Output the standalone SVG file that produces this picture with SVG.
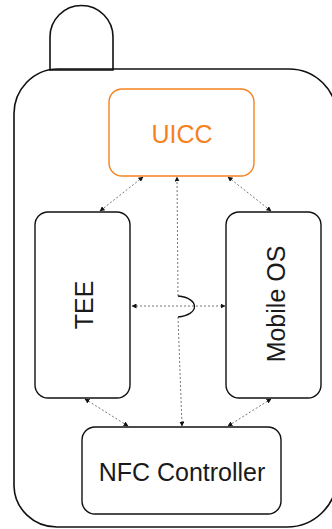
<svg xmlns="http://www.w3.org/2000/svg" width="332" height="529" viewBox="0 0 332 529">
<style>
.outline{fill:none;stroke:#111;stroke-width:1.6}
.box{fill:#fff;stroke:#111;stroke-width:1.4}
.uicc{fill:#fff;stroke:#f5821f;stroke-width:1.4}
.lbl{font-family:"Liberation Sans",Arial,sans-serif;font-size:25px;fill:#1a1a1a;text-anchor:middle}
.conn{fill:none;stroke:#666;stroke-width:0.9;stroke-dasharray:2,2}
.jump{fill:none;stroke:#111;stroke-width:1.3}
</style>
<defs>
<marker id="ah" viewBox="0 0 10 10" refX="9" refY="5" markerWidth="5" markerHeight="5" markerUnits="userSpaceOnUse" orient="auto-start-reverse">
<path d="M0,0 L10,5 L0,10 Z" fill="#111"/>
</marker>
</defs>
<rect width="332" height="529" fill="#fff"/>
<g id="phone">
<path class="outline" d="M14,486 L14,115 A44,45 0 0 1 58,69 L289,69 A48,48 0 0 1 337,117 L337,478 A50,50 0 0 1 287,527 L57,527 A43,42 0 0 1 14,486 Z"/>
<path class="outline" d="M50,70 L50,37 A31.5,31.5 0 0 1 113,37 L113,70 Z"/>
</g>
<g id="connectors">
<line class="conn" x1="143" y1="177" x2="100" y2="211" marker-start="url(#ah)" marker-end="url(#ah)"/>
<line class="conn" x1="228" y1="177" x2="271" y2="211" marker-start="url(#ah)" marker-end="url(#ah)"/>
<line class="conn" x1="132" y1="306" x2="225" y2="306" marker-start="url(#ah)" marker-end="url(#ah)"/>
<line class="conn" x1="85" y1="399" x2="128" y2="426" marker-start="url(#ah)" marker-end="url(#ah)"/>
<line class="conn" x1="271" y1="399" x2="228" y2="426" marker-start="url(#ah)" marker-end="url(#ah)"/>
<line class="conn" x1="178" y1="296" x2="177" y2="177" marker-end="url(#ah)"/>
<path class="jump" d="M178,296 C200,298 200,315 178,317"/>
<line class="conn" x1="178" y1="317" x2="182" y2="426" marker-end="url(#ah)"/>
</g>
<g id="uicc">
<rect class="uicc" x="109" y="89" width="145" height="87" rx="13"/>
<text class="lbl" x="182" y="143" style="fill:#f5821f">UICC</text>
</g>
<g id="tee">
<rect class="box" x="35" y="212" width="95" height="186" rx="13"/>
<text class="lbl" transform="translate(93,305) rotate(-90)">TEE</text>
</g>
<g id="mobile-os">
<rect class="box" x="226" y="212" width="95" height="186" rx="13"/>
<text class="lbl" transform="translate(285,304) rotate(-90)">Mobile OS</text>
</g>
<g id="nfc">
<rect class="box" x="82" y="427" width="199" height="87" rx="13"/>
<text class="lbl" x="182" y="481">NFC Controller</text>
</g>
</svg>
